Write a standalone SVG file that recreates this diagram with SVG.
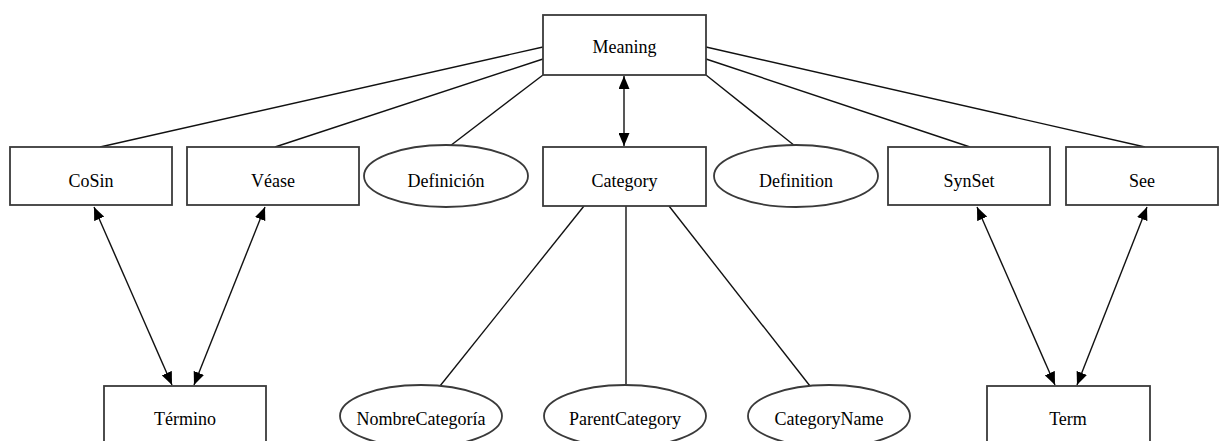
<svg xmlns="http://www.w3.org/2000/svg" width="1220" height="441" viewBox="0 0 1220 441" font-family="'Liberation Serif', 'Times New Roman', 'DejaVu Serif', serif">
<style>
.box{fill:#fff;stroke:#3a3a3a;stroke-width:1.8}
.lbl{font-family:'Liberation Serif','Times New Roman','DejaVu Serif',serif;font-size:18px;fill:#000;text-anchor:middle}
.ln{stroke:#111;stroke-width:1.4;fill:none}
.arr{stroke:#111;stroke-width:1.4;fill:none;marker-start:url(#ah);marker-end:url(#ah)}
</style>
<defs>
<marker id="ah" viewBox="0 0 13 11" refX="13" refY="5.5" markerWidth="13" markerHeight="11" markerUnits="userSpaceOnUse" orient="auto-start-reverse">
<path d="M0,0 L13,5.5 L0,11 z" fill="#000"/>
</marker>
</defs>
<rect width="1220" height="441" fill="#fff"/>
<g id="connectors">
<line class="ln" x1="543" y1="47" x2="100" y2="147"/>
<line class="ln" x1="543" y1="59" x2="275" y2="147"/>
<line class="ln" x1="543" y1="75" x2="450" y2="146"/>
<line class="arr" x1="624" y1="76" x2="624" y2="146"/>
<line class="ln" x1="706" y1="75" x2="795" y2="146"/>
<line class="ln" x1="706" y1="59" x2="970" y2="147"/>
<line class="ln" x1="706" y1="47" x2="1145" y2="147"/>
<line class="arr" x1="94" y1="207" x2="172" y2="385"/>
<line class="arr" x1="265" y1="207" x2="194" y2="385"/>
<line class="arr" x1="977" y1="207" x2="1055" y2="385"/>
<line class="arr" x1="1147" y1="207" x2="1077" y2="385"/>
<line class="ln" x1="584" y1="206" x2="440" y2="386"/>
<line class="ln" x1="626" y1="206" x2="626" y2="384"/>
<line class="ln" x1="669" y1="206" x2="810" y2="386"/>
</g>
<g id="meaning"><rect class="box" x="543" y="15" width="163" height="60"/><text class="lbl" x="624.5" y="53">Meaning</text></g>
<g id="cosin"><rect class="box" x="10" y="147" width="162" height="58"/><text class="lbl" x="91" y="187">CoSin</text></g>
<g id="vease"><rect class="box" x="187" y="147" width="172" height="58"/><text class="lbl" x="273" y="187">Véase</text></g>
<g id="definicion"><ellipse class="box" cx="446" cy="176" rx="82" ry="31"/><text class="lbl" x="446" y="187">Definición</text></g>
<g id="category"><rect class="box" x="543" y="147" width="163" height="59"/><text class="lbl" x="624.5" y="187">Category</text></g>
<g id="definition"><ellipse class="box" cx="796" cy="176" rx="82" ry="31"/><text class="lbl" x="796" y="187">Definition</text></g>
<g id="synset"><rect class="box" x="888" y="147" width="162" height="58"/><text class="lbl" x="969" y="187">SynSet</text></g>
<g id="see"><rect class="box" x="1066" y="147" width="152" height="58"/><text class="lbl" x="1142" y="187">See</text></g>
<g id="termino"><rect class="box" x="104" y="386" width="162" height="70"/><text class="lbl" x="185" y="425">Término</text></g>
<g id="nombrecategoria"><ellipse class="box" cx="421" cy="416" rx="81" ry="31"/><text class="lbl" x="421" y="425">NombreCategoría</text></g>
<g id="parentcategory"><ellipse class="box" cx="625" cy="416" rx="81" ry="31"/><text class="lbl" x="625" y="425">ParentCategory</text></g>
<g id="categoryname"><ellipse class="box" cx="829" cy="416" rx="81" ry="31"/><text class="lbl" x="829" y="425">CategoryName</text></g>
<g id="term"><rect class="box" x="987" y="386" width="163" height="70"/><text class="lbl" x="1068" y="425">Term</text></g>
</svg>
